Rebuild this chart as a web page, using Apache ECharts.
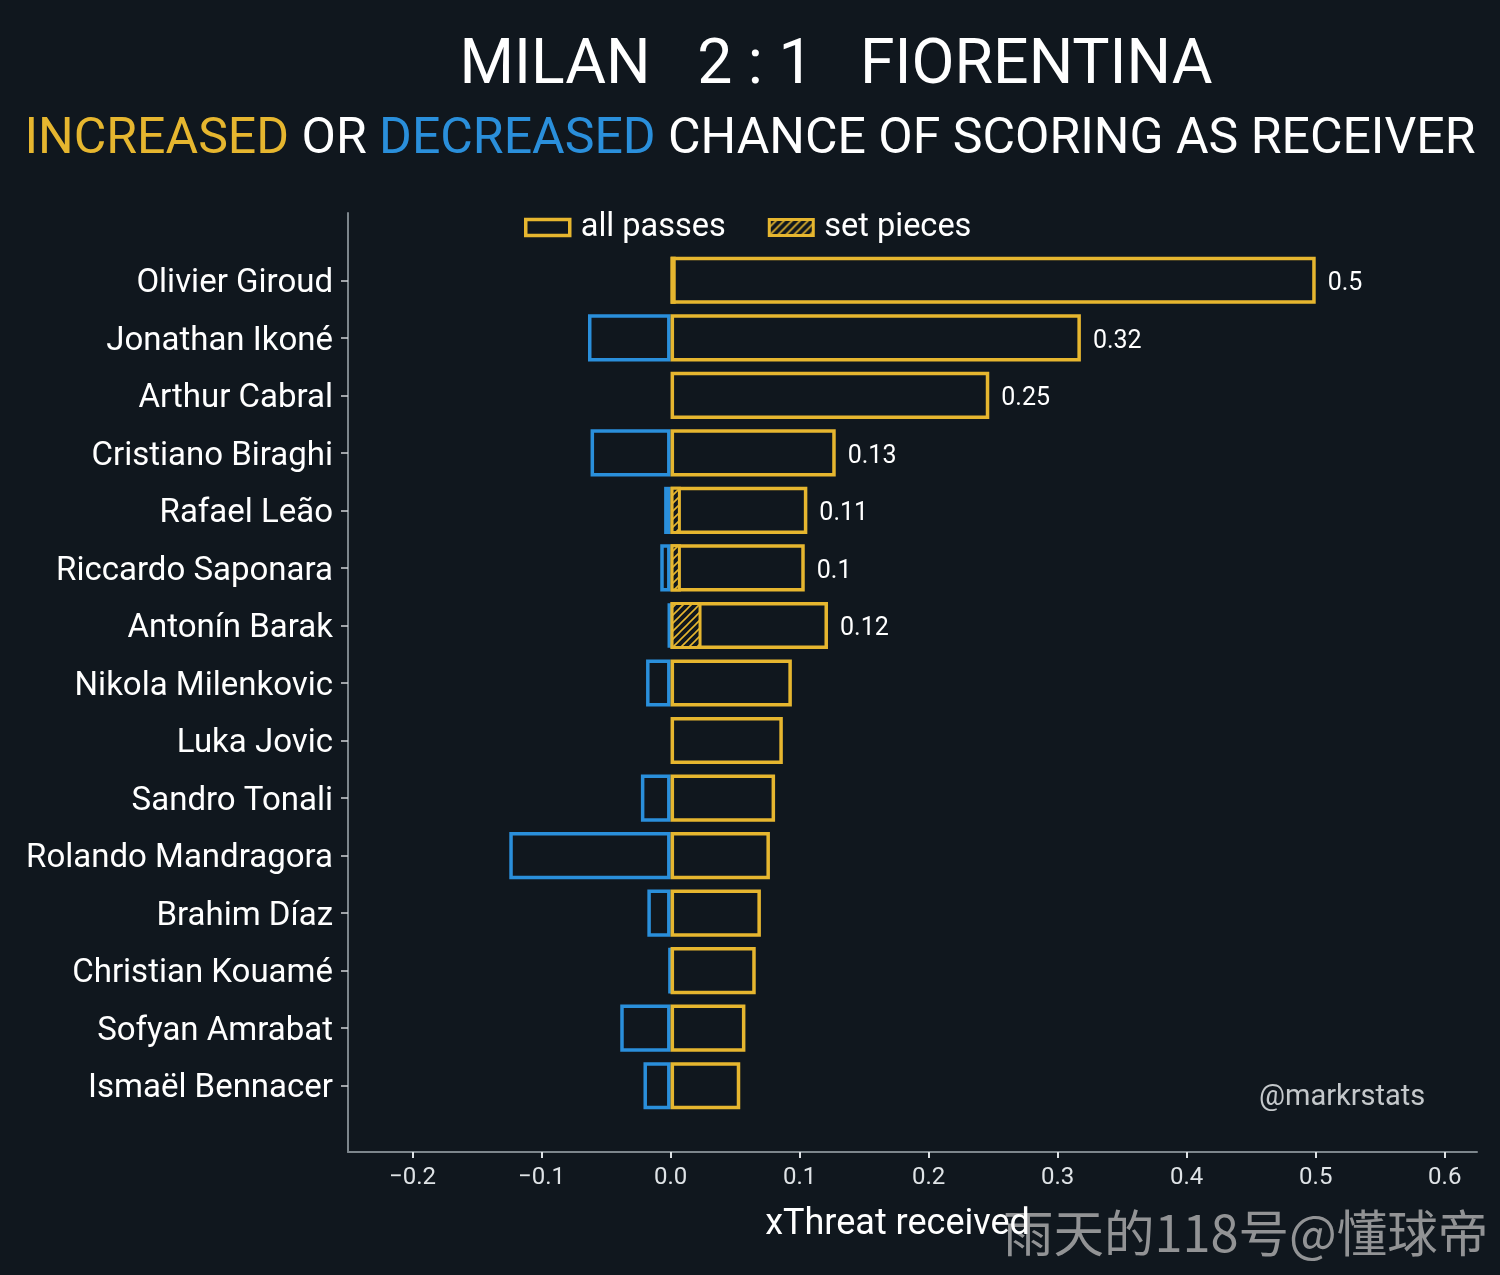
<!DOCTYPE html>
<html>
<head>
<meta charset="utf-8">
<script src="https://cdn.jsdelivr.net/npm/echarts@6/dist/echarts.min.js"></script>
<style>
  html, body { margin: 0; padding: 0; background: #10171e; }
  #chart { width: 1500px; height: 1275px; }
</style>
</head>
<body>
<div id="chart"></div>
<script>
// players, top to bottom
var players = ['Olivier Giroud', 'Jonathan Ikoné', 'Arthur Cabral', 'Cristiano Biraghi', 'Rafael Leão',
  'Riccardo Saponara', 'Antonín Barak', 'Nikola Milenkovic', 'Luka Jovic', 'Sandro Tonali',
  'Rolando Mandragora', 'Brahim Díaz', 'Christian Kouamé', 'Sofyan Amrabat', 'Ismaël Bennacer']
// xThreat received (all passes)
var increased = [0.500, 0.318, 0.247, 0.128, 0.106, 0.104, 0.122, 0.094, 0.087, 0.081, 0.077, 0.070, 0.066, 0.058, 0.054]
var decreased = [0, -0.064, 0, -0.062, -0.005, -0.008, -0.002, -0.019, 0, -0.023, -0.125, -0.018, -0.001, -0.039, -0.021]
// from set pieces only
var setPieces = [0.004, 0, 0, 0, 0.008, 0.008, 0.024, 0, 0, 0, 0, 0, 0, 0, 0]
var xTicks = [-0.2, -0.1, 0.0, 0.1, 0.2, 0.3, 0.4, 0.5, 0.6]
var labelledCount = 7

var YELLOW = '#e6b62f'
var BLUE = '#2a8fdb'
var BG = '#10171e'

// hatch fill for set pieces
var hatch = document.createElement('canvas')
hatch.width = 8
hatch.height = 8
var hc = hatch.getContext('2d')
hc.fillStyle = BG
hc.fillRect(0, 0, 8, 8)
hc.strokeStyle = YELLOW
hc.lineWidth = 1.6
hc.beginPath()
hc.moveTo(-2, 10); hc.lineTo(10, -2)
hc.moveTo(-6, 6); hc.lineTo(6, -6)
hc.moveTo(2, 14); hc.lineTo(14, 2)
hc.stroke()
var hatchFill = { image: hatch, repeat: 'repeat' }

var chart = echarts.init(document.getElementById('chart'))

var fmtTick = function (v) {
    return (v < 0 ? '\u2212' : '') + Math.abs(v).toFixed(1)
}

chart.setOption({
    backgroundColor: BG,
    textStyle: { fontFamily: 'Roboto' },
    animation: false,
    title: [
        {
            text: 'MILAN   2 : 1   FIORENTINA',
            left: 831, top: 31, textAlign: 'center',
            textStyle: { color: '#ffffff', fontSize: 62.5, fontWeight: 'normal', fontFamily: 'Roboto' }
        },
        {
            text: '{y|INCREASED} OR {b|DECREASED} CHANCE OF SCORING AS RECEIVER',
            left: 'center', top: 110,
            textStyle: {
                color: '#ffffff', fontSize: 50, fontWeight: 'normal', fontFamily: 'Roboto',
                rich: {
                    y: { color: YELLOW, fontSize: 50, fontFamily: 'Roboto' },
                    b: { color: BLUE, fontSize: 50, fontFamily: 'Roboto' }
                }
            }
        }
    ],
    legend: {
        left: 519, top: 206, icon: 'rect',
        itemWidth: 44, itemHeight: 16, itemGap: 42,
        textStyle: { color: '#ffffff', fontSize: 32.5, fontFamily: 'Roboto', padding: [0, 0, 0, 6] },
        data: [
            { name: 'all passes', itemStyle: { color: BG, borderColor: YELLOW, borderWidth: 3.5 } },
            { name: 'set pieces', itemStyle: { color: hatchFill, borderColor: YELLOW, borderWidth: 3 } }
        ]
    },
    grid: [
        { left: 348, right: 23, top: 251.5, bottom: 160.5 },
        { left: 348, right: 23, top: 213, bottom: 123 }
    ],
    xAxis: [
        {
            gridIndex: 0, type: 'value', min: -0.25, max: 0.625,
            show: false, splitLine: { show: false }
        },
        {
            gridIndex: 1, type: 'value', min: -0.25, max: 0.625,
            axisLine: { show: true, onZero: false, lineStyle: { color: '#7d868c', width: 2 } },
            axisTick: { show: true, customValues: xTicks, length: 6, lineStyle: { color: '#dfe3e6', width: 2 } },
            axisLabel: { customValues: xTicks, formatter: fmtTick, color: '#dfe3e6', fontSize: 24, margin: 14 },
            splitLine: { show: false },
            name: 'xThreat received', nameLocation: 'middle', nameGap: 55,
            nameTextStyle: { color: '#ffffff', fontSize: 36, padding: [0, 30, 0, 0] }
        }
    ],
    yAxis: [
        {
            gridIndex: 0, type: 'category', inverse: true, data: players,
            axisLine: { show: false, onZero: false },
            axisTick: { show: true, length: 7, alignWithLabel: true, lineStyle: { color: '#cfd3d6', width: 1.5 } },
            axisLabel: {
                color: '#ffffff', fontSize: 33, margin: 15,
                formatter: function (v) { return '{n|' + v + '}' },
                rich: { n: { color: '#ffffff', fontSize: 33, fontFamily: 'Roboto', padding: [7, 0, 0, 0] } }
            },
            splitLine: { show: false }
        },
        {
            gridIndex: 1, type: 'value', min: 0, max: 1,
            axisLine: { show: true, onZero: false, lineStyle: { color: '#7d868c', width: 2 } },
            axisTick: { show: false }, axisLabel: { show: false }, splitLine: { show: false }
        }
    ],
    series: [
        {
            name: 'decreased', type: 'bar', xAxisIndex: 0, yAxisIndex: 0,
            barWidth: '82%', barGap: '-100%',
            data: decreased.map(function (v) { return v === 0 ? '-' : v }),
            itemStyle: { color: 'transparent', borderColor: BLUE, borderWidth: 3.5 }
        },
        {
            name: 'all passes', type: 'bar', xAxisIndex: 0, yAxisIndex: 0,
            barWidth: '82%', barGap: '-100%',
            data: increased.map(function (v, i) {
                return { value: v, label: { show: i < labelledCount } }
            }),
            itemStyle: { color: 'transparent', borderColor: YELLOW, borderWidth: 3.5 },
            label: {
                position: 'right', distance: 12, color: '#ffffff', fontSize: 25,
                formatter: function (p) { return '{v|' + (+p.value.toFixed(2)) + '}' },
                rich: { v: { color: '#ffffff', fontSize: 25, fontFamily: 'Roboto', padding: [7, 0, 0, 0] } }
            }
        },
        {
            name: 'set pieces', type: 'bar', xAxisIndex: 0, yAxisIndex: 0,
            barWidth: '82%', barGap: '-100%',
            data: setPieces.map(function (v) { return v === 0 ? '-' : v }),
            itemStyle: { color: hatchFill, borderColor: YELLOW, borderWidth: 3 }
        }
    ],
    graphic: [
        {
            type: 'text', left: 1259, top: 1083,
            style: { text: '@markrstats', fill: '#c4c8cb', fontSize: 29, fontFamily: 'Roboto' }
        },
        {
            type: 'text', left: 1003, top: 1208,
            style: { text: '雨天的118号@懂球帝', fill: 'rgba(190,190,190,0.75)', fontSize: 50.5, fontFamily: 'Noto Sans CJK SC' }
        }
    ]
})
</script>
</body>
</html>
